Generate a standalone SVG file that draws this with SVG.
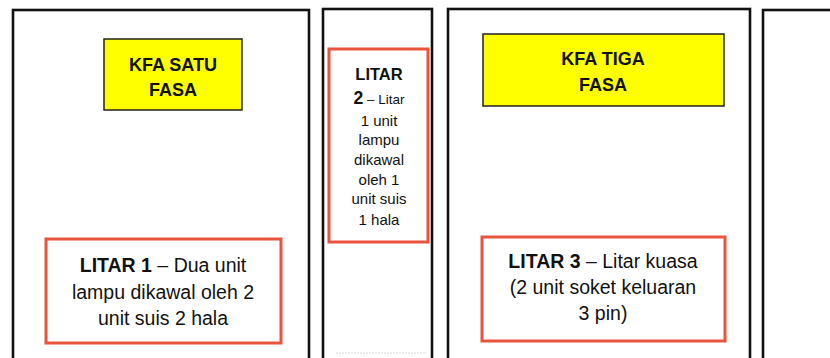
<svg xmlns="http://www.w3.org/2000/svg" width="830" height="358" viewBox="0 0 830 358">
<style>
.panel{fill:#ffffff;stroke:#111111;stroke-width:2.6}
.kfa{fill:#ffff00;stroke:#222222;stroke-width:1.5}
.litar{fill:#ffffff;stroke:#e8553c;stroke-width:3}
text{font-family:"Liberation Sans",Arial,sans-serif;fill:#111111;text-anchor:middle}
.b{font-weight:bold}
.t1{font-size:18px;font-weight:bold}
.t2{font-size:19.5px}
.t3{font-size:15px}
</style>
<rect width="830" height="358" fill="#ffffff"/>
<g id="panel1">
<rect class="panel" x="13" y="10" width="296" height="360"/>
</g>
<g id="panel2">
<rect class="panel" x="323" y="9" width="109" height="361"/>
<line x1="336" y1="353" x2="427" y2="353" stroke="#d8d8d8" stroke-width="1" stroke-dasharray="2 1"/>
</g>
<g id="panel3">
<rect class="panel" x="448" y="9" width="302" height="361"/>
</g>
<g id="panel4">
<rect class="panel" x="763" y="10" width="90" height="360"/>
</g>
<g id="kfa-satu">
<rect class="kfa" x="104" y="39" width="138" height="71"/>
<text class="t1" x="173" y="71">KFA SATU</text>
<text class="t1" x="173" y="96">FASA</text>
</g>
<g id="kfa-tiga">
<rect class="kfa" x="483" y="34" width="241" height="72"/>
<text class="t1" x="603" y="65">KFA TIGA</text>
<text class="t1" x="603" y="91">FASA</text>
</g>
<g id="litar1">
<rect class="litar" x="46" y="239" width="235" height="104"/>
<text class="t2" x="163" y="272"><tspan class="b">LITAR 1</tspan> – Dua unit</text>
<text class="t2" x="163" y="299">lampu dikawal oleh 2</text>
<text class="t2" x="163" y="325">unit suis 2 hala</text>
</g>
<g id="litar2">
<rect class="litar" x="329" y="49" width="99" height="193"/>
<text class="b" x="379" y="80" font-size="16.5">LITAR</text>
<text x="379" y="104" font-size="13.5"><tspan class="b" font-size="17.5">2</tspan> – Litar</text>
<text class="t3" x="379" y="126">1 unit</text>
<text class="t3" x="379" y="145">lampu</text>
<text class="t3" x="379" y="165">dikawal</text>
<text class="t3" x="379" y="185">oleh 1</text>
<text class="t3" x="379" y="204">unit suis</text>
<text class="t3" x="379" y="225">1 hala</text>
</g>
<g id="litar3">
<rect class="litar" x="482" y="237" width="243" height="104"/>
<text class="t2" x="603" y="268"><tspan class="b">LITAR 3</tspan> – Litar kuasa</text>
<text class="t2" x="603" y="294">(2 unit soket keluaran</text>
<text class="t2" x="603" y="320">3 pin)</text>
</g>
<g id="connectors"></g>
</svg>
